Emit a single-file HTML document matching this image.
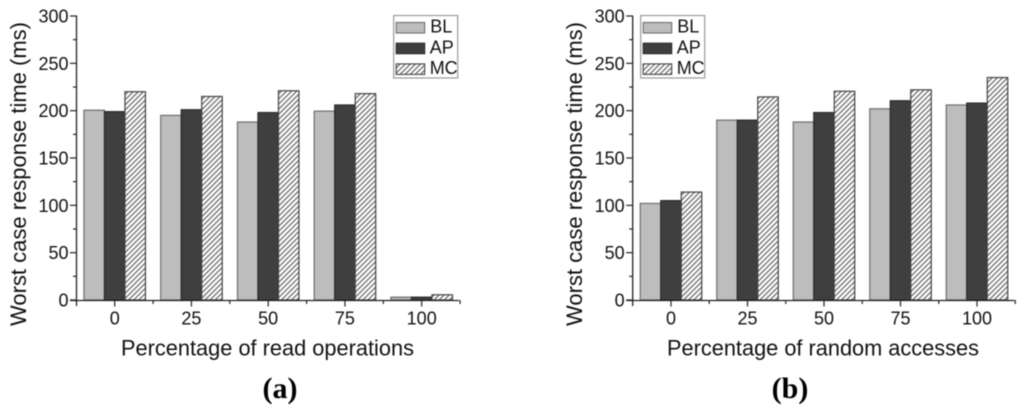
<!DOCTYPE html>
<html lang="en">
<head>
<meta charset="utf-8">
<title>Worst case response time charts</title>
<style>
html,body{margin:0;padding:0;background:#fff;width:1024px;height:414px;overflow:hidden}
svg{display:block;filter:blur(0.4px)}
text{font-family:"Liberation Sans",sans-serif;fill:#111}
.cap{font-family:"Liberation Serif",serif;fill:#000}
</style>
</head>
<body>
<svg id="fig" xmlns="http://www.w3.org/2000/svg" width="1024" height="414" viewBox="0 0 1024 414">
<defs>
<pattern id="hatch" patternUnits="userSpaceOnUse" width="3.6" height="3.6" patternTransform="rotate(45)">
<rect width="3.6" height="3.6" fill="#fff"/>
<rect width="1.3" height="3.6" fill="#707070"/>
</pattern>
</defs>
</svg>
<script>
const categories = ["0", "25", "50", "75", "100"];
const yTicks = [0, 50, 100, 150, 200, 250, 300];
const yMinorTicks = [25, 75, 125, 175, 225, 275];
const seriesNames = ["BL", "AP", "MC"];
const blA = [200.5, 195, 188, 199.5, 3];
const apA = [199, 201, 198, 206, 3];
const mcA = [220, 215, 221, 218, 5.5];
const blB = [102, 190, 188, 202, 206];
const apB = [105, 190, 198, 210.5, 208];
const mcB = [114, 214.5, 220.5, 222, 235];

const NS = "http://www.w3.org/2000/svg";
const fig = document.getElementById("fig");
const fills = ["#bdbdbd", "#3f3f3f", "url(#hatch)"];
const strokes = ["#6e6e6e", "#2c2c2c", "#444"];

function mk(parent, tag, attrs, txt) {
  const e = document.createElementNS(NS, tag);
  for (const k in attrs) e.setAttribute(k, attrs[k]);
  if (txt !== undefined) e.textContent = txt;
  parent.appendChild(e);
  return e;
}

function drawPanel(cfg) {
  const g = mk(fig, "g", {});
  
  
  const y = v => 300 - v * (284 / 300);
  const x = i => cfg.x0 + i * cfg.step;
  const barW = 20.5;

  // bars
  cfg.series.forEach((vals, s) => {
    vals.forEach((v, i) => {
      const bx = x(i) + (s - 1.5) * barW;
      const r = mk(g, "rect", {x: bx, y: y(v), width: barW, height: 300 - y(v), fill: fills[s], stroke: strokes[s], "stroke-width": 1.2});
      
      
    });
  });

  // axes
  const yAxis = mk(g, "line", {x1: cfg.axisX, x2: cfg.axisX, y1: 15.5, y2: 306, stroke: "#222", "stroke-width": 1.3});
  
  
  const xAxis = mk(g, "line", {x1: cfg.axisX - 6.5, x2: cfg.axisEnd, y1: 300.5, y2: 300.5, stroke: "#222", "stroke-width": 1.3});
  
  

  // y ticks
  yTicks.forEach(v => {
    mk(g, "line", {x1: cfg.axisX - 6.5, x2: cfg.axisX, y1: y(v), y2: y(v), stroke: "#222", "stroke-width": 1.2});
    const t = mk(g, "text", {x: cfg.axisX - 8, y: y(v) + 6.5, "text-anchor": "end", "font-size": 18}, v);
    
    
  });
  yMinorTicks.forEach(v => {
    mk(g, "line", {x1: cfg.axisX - 3.5, x2: cfg.axisX, y1: y(v), y2: y(v), stroke: "#222", "stroke-width": 1.2});
  });

  // x ticks
  categories.forEach((c, i) => {
    mk(g, "line", {x1: x(i), x2: x(i), y1: 300, y2: 306.5, stroke: "#222", "stroke-width": 1.2});
    mk(g, "line", {x1: x(i) + cfg.step / 2, x2: x(i) + cfg.step / 2, y1: 300, y2: 304, stroke: "#222", "stroke-width": 1.2});
    const t = mk(g, "text", {x: x(i), y: 324.5, "text-anchor": "middle", "font-size": 18}, c);
    
    
  });

  // titles
  const xt = mk(g, "text", {x: cfg.xTitleX, y: 355.5, "text-anchor": "middle", "font-size": 22, textLength: cfg.xTitleLen, lengthAdjust: "spacingAndGlyphs"}, cfg.xTitle);
  
  
  const yt = mk(g, "text", {x: 0, y: 0, transform: "translate(" + cfg.yTitleX + ",174) rotate(-90)", "text-anchor": "middle", "font-size": 22, textLength: 304, lengthAdjust: "spacingAndGlyphs"}, "Worst case response time (ms)");
  
  

  // caption
  const cap = mk(g, "text", {x: cfg.capX, y: 398, "text-anchor": "middle", "font-size": 30, "font-weight": "bold", class: "cap"}, "(" + cfg.capLetter + ")");
  
  

  // legend
  const lg = mk(g, "g", {});
  
  
  mk(lg, "rect", {x: cfg.legX, y: 15.5, width: 64, height: 62.5, fill: "#fff", stroke: "#999", "stroke-width": 1.2});
  seriesNames.forEach((n, s) => {
    const sy = 22.5 + s * 20.7;
    mk(lg, "rect", {x: cfg.legX + 2.5, y: sy, width: 28.5, height: 10.5, fill: fills[s], stroke: strokes[s], "stroke-width": 1.1});
    const t = mk(lg, "text", {x: cfg.legX + (s === 0 ? 36.5 : 36), y: sy + 10.2, "font-size": 18}, n);
    
    
  });
}

drawPanel({name: "chart-read-operations", series: [blA, apA, mcA], x0: 114.7, step: 76.75, axisX: 76.5, axisEnd: 459,
  xTitle: "Percentage of read operations", xTitleX: 267.5, xTitleLen: 293, yTitleX: 26, capX: 280, capLetter: "a", legX: 393.7});
drawPanel({name: "chart-random-accesses", series: [blB, apB, mcB], x0: 671, step: 76.5, axisX: 632.7, axisEnd: 1014.5,
  xTitle: "Percentage of random accesses", xTitleX: 823, xTitleLen: 312, yTitleX: 582, capX: 790, capLetter: "b", legX: 640.7});
</script>
</body>
</html>
